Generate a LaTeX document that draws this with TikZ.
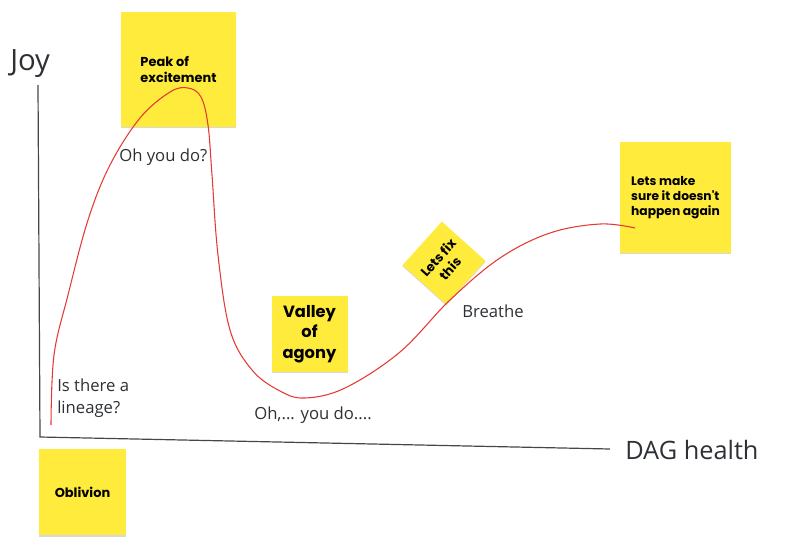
\documentclass[tikz,border=0pt]{standalone}
\usepackage{fontspec}
\setmainfont{Open Sans}
\newfontfamily\notefont{Poppins}
\definecolor{postit}{RGB}{255, 235, 59}
\definecolor{curvared}{RGB}{229, 57, 53}
\definecolor{textgris}{RGB}{45, 48, 52}
\definecolor{ejegris}{RGB}{70, 70, 70}
\usetikzlibrary{shadows}

\begin{document}
\begin{tikzpicture}[x=0.75pt, y=-0.75pt,
    every node/.style={inner sep=0pt, text=textgris},
    sticky/.style={fill=postit, minimum width=#1, minimum height=#1,
                   drop shadow={shadow xshift=0pt, shadow yshift=-0.9pt, fill=gray!60, opacity=0.5},
                   text=black, font=\notefont\bfseries},
    label/.style={font=\fontsize{12.5}{16}\selectfont, align=left, anchor=west}]
      \useasboundingbox (0,0) rectangle (800,557);

      % axes
      \coordinate (ytop) at (38,85);
      \coordinate (origin) at (40,437);
      \coordinate (xend) at (610,449);
      \draw[ejegris, line width=0.9pt] (ytop) -- (origin) -- (xend);
      \node[anchor=west, font=\fontsize{22}{24}\selectfont] (joy) at (10,64) {Joy};
      \node[anchor=west, font=\fontsize{19}{22}\selectfont] (dag) at (625,450) {DAG health};

      % sticky notes
      \node[sticky=86.25pt, align=left, font=\notefont\bfseries\fontsize{9.7}{12}\selectfont] (peak) at (178.5,69.5) {Peak of\\excitement};
      \node[sticky=57pt, align=center, font=\notefont\bfseries\fontsize{12.2}{15.5}\selectfont] (valley) at (309.5,334) {Valley\\of\\agony};
      \node[sticky=44pt, rotate=48, align=center, font=\notefont\bfseries\fontsize{9.7}{12}\selectfont] (fix) at (444,263) {Lets fix\\this};
      \node[sticky=83pt, align=left, font=\notefont\bfseries\fontsize{9.2}{11.5}\selectfont] (again) at (675.5,197.5) {Lets make\\sure it doesn't\\happen again};
      \node[sticky=65pt, align=center, font=\notefont\bfseries\fontsize{9.7}{12}\selectfont] (oblivion) at (82.5,492) {Oblivion};

      % the curve
      \draw[curvared, line width=0.8pt] plot[smooth, tension=0.6] coordinates {
        (51,425) (54,355) (68,295) (88,220) (110,165) (140,118) (170,92)
        (188,88) (201,97) (208,125) (212,175) (218,255) (230,330) (252,370)
        (280,391) (305,398) (345,388) (400,352) (450,300) (500,258)
        (550,233) (600,224) (635,228)};

      % labels along the curve
      \node[label] (ohyou) at (119,157) {Oh you do?};
      \node[label] (lineage) at (57,398) {Is there a\\lineage?};
      \node[label] (ohdots) at (254,415) {Oh,... you do....};
      \node[label] (breathe) at (462,311) {Breathe};
    \end{tikzpicture}
\end{document}
